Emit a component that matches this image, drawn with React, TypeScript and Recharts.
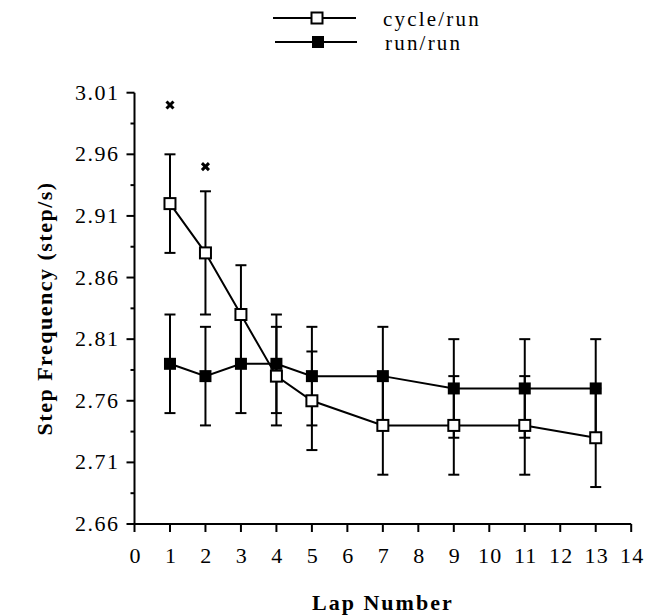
import React from "react"
import {
  ComposedChart,
  Line,
  Scatter,
  XAxis,
  YAxis,
  ErrorBar,
  Legend,
  Label,
} from "recharts"

const laps = [1, 2, 3, 4, 5, 7, 9, 11, 13]
const cycleMean = [2.92, 2.88, 2.83, 2.78, 2.76, 2.74, 2.74, 2.74, 2.73]
const cycleLow = [2.88, 2.83, 2.79, 2.74, 2.72, 2.7, 2.7, 2.7, 2.69]
const cycleHigh = [2.96, 2.93, 2.87, 2.82, 2.8, 2.78, 2.78, 2.78, 2.77]
const runMean = [2.79, 2.78, 2.79, 2.79, 2.78, 2.78, 2.77, 2.77, 2.77]
const runLow = [2.75, 2.74, 2.75, 2.75, 2.74, 2.74, 2.73, 2.73, 2.73]
const runHigh = [2.83, 2.82, 2.83, 2.83, 2.82, 2.82, 2.81, 2.81, 2.81]

// significance markers
const sigLaps = [1, 2]
const sigValues = [3.0, 2.95]

const xTicks = [0, 1, 2, 3, 4, 5, 6, 7, 8, 9, 10, 11, 12, 13, 14]
const yMajor = [2.66, 2.71, 2.76, 2.81, 2.86, 2.91, 2.96, 3.01]
const yMinor = [2.685, 2.735, 2.785, 2.835, 2.885, 2.935, 2.985]

const data = laps.map((lap, i) => ({
  lap,
  cycle: cycleMean[i],
  cycleErr: [
    +(cycleMean[i] - cycleLow[i]).toFixed(3),
    +(cycleHigh[i] - cycleMean[i]).toFixed(3),
  ],
  run: runMean[i],
  runErr: [
    +(runMean[i] - runLow[i]).toFixed(3),
    +(runHigh[i] - runMean[i]).toFixed(3),
  ],
}))

const sigData = sigLaps.map((lap, i) => ({ lap, sig: sigValues[i] }))

const txt = { fontFamily: "Liberation Serif, serif" }

const OpenSquare = (props: any) => {
  const { cx, cy } = props
  if (cx == null || cy == null) return null
  return (
    <rect x={cx - 5.5} y={cy - 5.5} width={11} height={11} fill="#fff" stroke="#000" strokeWidth={2} />
  )
}

const FilledSquare = (props: any) => {
  const { cx, cy } = props
  if (cx == null || cy == null) return null
  return <rect x={cx - 6} y={cy - 6} width={12} height={12} fill="#000" />
}

const Star = (props: any) => {
  const { cx, cy } = props
  return (
    <g stroke="#000" strokeWidth={3}>
      <line x1={cx - 3.5} y1={cy - 3.5} x2={cx + 3.5} y2={cy + 3.5} />
      <line x1={cx - 3.5} y1={cy + 3.5} x2={cx + 3.5} y2={cy - 3.5} />
    </g>
  )
}

const YTick = (props: any) => {
  const { x, y, payload } = props
  const major = yMajor.includes(payload.value)
  return (
    <g>
      <line x1={x - (major ? 8 : 4)} y1={y} x2={x} y2={y} stroke="#000" strokeWidth={2} />
      {major && (
        <text x={x - 15} y={y + 7} textAnchor="end" fontSize={22} letterSpacing={1.5} fill="#000" style={txt}>
          {payload.value.toFixed(2)}
        </text>
      )}
    </g>
  )
}

const XTick = (props: any) => {
  const { x, y, payload } = props
  return (
    <g>
      <line x1={x} y1={y} x2={x} y2={y + 8} stroke="#000" strokeWidth={2} />
      <text x={x + 1} y={y + 39} textAnchor="middle" fontSize={22} letterSpacing={1.2} fill="#000" style={txt}>
        {payload.value}
      </text>
    </g>
  )
}

const LegendBox = () => (
  <svg width={320} height={60} style={{ display: "block" }}>
    <line x1={0} y1={14} x2={83} y2={14} stroke="#000" strokeWidth={2} />
    <rect x={38.5} y={8.5} width={11} height={11} fill="#fff" stroke="#000" strokeWidth={2} />
    <text x={110} y={22} fontSize={21} letterSpacing={2.2} fill="#000" style={txt}>
      cycle/run
    </text>
    <line x1={2} y1={38} x2={84} y2={38} stroke="#000" strokeWidth={2} />
    <rect x={39} y={32} width={12} height={12} fill="#000" />
    <text x={112} y={46} fontSize={21} letterSpacing={2.2} fill="#000" style={txt}>
      run/run
    </text>
  </svg>
)

export default function App() {
  return (
    <div
      style={{
        ...txt,
        position: "absolute",
        left: 0,
        top: 0,
        width: 645,
        height: 615,
        overflow: "hidden",
      }}
    >
      <ComposedChart
        width={645}
        height={615}
        data={data}
        margin={{ top: 92.7, right: 13.8, bottom: 0, left: 0 }}
      >
        <XAxis
          dataKey="lap"
          type="number"
          domain={[0, 14]}
          ticks={xTicks}
          interval={0}
          height={91}
          tickSize={0}
          tickMargin={0}
          tickLine={false}
          axisLine={{ stroke: "#000", strokeWidth: 2 }}
          tick={<XTick />}
        >
          <Label
            content={(p: any) => {
              const vb = p.viewBox
              return (
                <text
                  x={vb.x + vb.width / 2}
                  y={vb.y + 86}
                  textAnchor="middle"
                  fontSize={22}
                  fontWeight="bold"
                  letterSpacing={2}
                  fill="#000"
                  style={txt}
                >
                  Lap Number
                </text>
              )
            }}
          />
        </XAxis>
        <YAxis
          type="number"
          domain={[2.66, 3.01]}
          ticks={[...yMajor, ...yMinor]}
          interval={0}
          width={134.5}
          tickSize={0}
          tickMargin={0}
          tickLine={false}
          allowDataOverflow
          axisLine={{ stroke: "#000", strokeWidth: 2 }}
          tick={<YTick />}
        >
          <Label
            content={(p: any) => {
              const vb = p.viewBox
              const cx = 45
              const cy = vb.y + vb.height / 2
              return (
                <text
                  x={cx}
                  y={cy}
                  transform={`rotate(-90, ${cx}, ${cy})`}
                  textAnchor="middle"
                  dominantBaseline="central"
                  fontSize={22}
                  fontWeight="bold"
                  letterSpacing={1.5}
                  fill="#000"
                  style={txt}
                >
                  Step Frequency (step/s)
                </text>
              )
            }}
          />
        </YAxis>
        <Legend
          layout="vertical"
          align="center"
          verticalAlign="middle"
          wrapperStyle={{ top: 4, left: 273, width: 320 }}
          content={() => <LegendBox />}
        />
        <Line
          dataKey="cycle"
          name="cycle/run"
          type="linear"
          stroke="#000"
          strokeWidth={2}
          dot={<OpenSquare />}
          activeDot={false}
          isAnimationActive={false}
        >
          <ErrorBar dataKey="cycleErr" direction="y" width={5.5} stroke="#000" strokeWidth={2} isAnimationActive={false} />
        </Line>
        <Line
          dataKey="run"
          name="run/run"
          type="linear"
          stroke="#000"
          strokeWidth={2}
          dot={<FilledSquare />}
          activeDot={false}
          isAnimationActive={false}
        >
          <ErrorBar dataKey="runErr" direction="y" width={5.5} stroke="#000" strokeWidth={2} isAnimationActive={false} />
        </Line>
        <Scatter data={sigData} dataKey="sig" shape={<Star />} isAnimationActive={false} />
      </ComposedChart>
    </div>
  )
}
